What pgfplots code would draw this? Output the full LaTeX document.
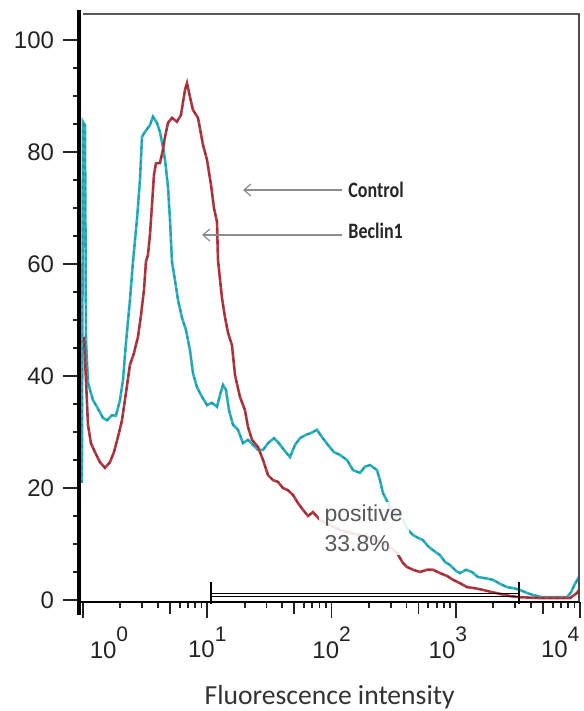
\documentclass[border=0pt]{standalone}
\usepackage{fontspec}
\setmainfont{Liberation Sans}
\newfontfamily\calfont{Carlito}
\usepackage{pgfplots}
\usepackage{pgfplotstable}
\pgfplotsset{compat=1.18}
\usetikzlibrary{arrows.meta}
\definecolor{cyanc}{RGB}{45,178,192}
\definecolor{cyand}{RGB}{25,115,128}
\definecolor{redc}{RGB}{180,58,68}
\definecolor{redd}{RGB}{105,30,40}
\definecolor{tickc}{RGB}{35,35,35}
\newcommand{\dec}[1]{10\raisebox{8.2pt}{\fontsize{10.5}{10.5}\selectfont #1}}

\pgfplotstableread{
x y
0.98 20.9
1.0 85.4
1.038 84.8
1.057 46.4
1.097 38.8
1.203 35.7
1.296 34.5
1.449 32.5
1.56 32.1
1.711 33.0
1.842 32.9
1.985 35.7
2.098 39.3
2.218 45.9
2.388 53.6
2.525 60.4
2.718 67.9
2.874 75.0
2.984 82.7
3.155 83.6
3.459 84.8
3.656 86.3
3.937 85.2
4.159 83.6
4.40 80.9
4.57 78.6
4.83 73.8
5.01 67.9
5.20 60.4
5.50 57.1
5.81 53.6
6.26 50.4
6.74 48.2
7.26 44.6
7.67 40.5
8.26 38.0
9.06 36.3
9.95 34.8
10.91 35.2
11.97 34.5
12.65 36.6
13.37 38.4
14.14 37.5
14.95 33.9
16.1 31.3
17.66 30.4
19.37 28.0
21.25 28.6
23.3 27.7
25.6 26.8
28.1 26.8
30.8 28.0
34.4 28.9
37.7 28.0
41.4 26.8
46.3 25.5
50.8 27.7
55.7 28.9
62.2 29.5
68.3 29.8
76.3 30.4
83.7 29.1
93.5 27.7
104.5 26.4
116.9 25.9
133.0 25.0
148.6 23.2
169.2 22.7
185.7 23.8
203.6 24.1
231.8 23.2
245 21.4
259 19.1
295 16.6
336 15.2
375 14.3
412 12.5
452 11.6
495 11.1
543 10.7
597 9.6
654 8.9
745 8.0
817 6.8
897 6.25
1002 5.2
1080 4.8
1206 5.4
1348 5.0
1506 4.1
1715 3.9
1988 3.6
2263 2.9
2577 2.3
2934 2.1
3280 1.8
3734 1.25
4170 0.9
4930 0.5
5930 0.5
7140 0.5
7830 0.5
8440 1.4
9080 2.9
9780 4.1
}\cyandata

\pgfplotstableread{
x y
1.019 47.0
1.057 39.3
1.097 31.3
1.159 28.0
1.249 26.4
1.370 24.6
1.503 23.6
1.648 24.6
1.775 26.4
1.912 29.1
2.06 32.1
2.218 37.0
2.388 42.0
2.572 44.1
2.77 47.0
2.93 50.9
3.097 55.4
3.21 60.4
3.33 61.6
3.459 65.2
3.59 70.5
3.725 75.9
3.865 78.0
4.159 78.0
4.40 80.4
4.57 82.7
4.83 85.2
5.20 86.1
5.70 85.4
6.14 86.6
6.62 91.1
6.87 92.3
7.26 89.8
7.67 87.5
8.42 86.1
9.23 81.3
9.95 78.6
10.71 74.1
11.32 70.0
11.97 67.5
12.19 60.7
13.13 53.9
13.88 50.5
14.69 47.7
15.8 45.5
16.7 40.2
18.3 36.3
20.1 33.9
21.25 30.9
22.9 28.6
25.6 27.3
28.1 25.0
30.8 22.3
33.8 21.4
37.0 21.1
40.6 20.0
44.6 19.6
48.9 18.75
53.7 17.3
58.9 16.1
64.6 15.0
70.8 15.7
80.7 14.3
97.1 13.4
116.9 12.5
140.6 12.0
169.2 11.6
203.6 11.1
245 10.4
295 9.5
336 8.4
375 6.6
404 5.9
452 5.4
514 5.0
585 5.4
654 5.4
745 4.8
848 4.3
948 3.6
1080 3.0
1228 2.3
1425 2.1
1653 1.8
1952 1.4
2263 1.1
2723 0.7
3280 0.5
4750 0.35
6870 0.35
8280 0.35
9420 1.25
9780 1.8
}\reddata

\begin{document}
\begin{tikzpicture}
\path[use as bounding box] (0,0) rectangle (291.5pt,355.5pt);
\begin{axis}[
  at={(39.5pt,54.5pt)}, anchor=south west,
  scale only axis, width=250.6pt, height=294pt,
  xmode=log, xmin=0.929, xmax=10000, ymin=-0.357, ymax=104.64,
  axis line style={draw=none},
  clip=false,
  tick align=outside, tick pos=left,
  ytick={0,20,40,60,80,100},
  minor ytick={5,10,15,25,30,35,45,50,55,65,70,75,85,90,95},
  xtick={1,10,100,1000,10000},
  xticklabels={\hspace*{26pt}\dec{0},\dec{1},\dec{2},\dec{3}\hspace*{8pt},\dec{4}\hspace*{20pt}},
  minor xtick={2,3,4,6,7,8,9,20,30,40,60,70,80,90,200,300,400,600,700,800,900,2000,3000,4000,6000,7000,8000,9000},
  extra x ticks={5,50,500,5000}, extra x tick labels={},
  extra x tick style={major tick length=6pt},
  major tick length=8pt, minor tick length=3pt,
  tick style={line width=0.9pt, tickc},
  /pgf/number format/assume math mode=true,
  yticklabel style={font=\fontsize{12}{14}\selectfont, text=tickc, xshift=-1pt},
  xticklabel style={font=\fontsize{12}{14}\selectfont, text=tickc, yshift=-1pt},
  xlabel={\calfont Fluorescence intensity},
  xlabel style={font=\fontsize{13.8}{16}\selectfont, text=black!80, at={(axis description cs:0.5,0)}, anchor=base, yshift=-51pt},
]
\addplot[cyanc, line width=1.3pt] table {\cyandata};
\addplot[cyand, line width=0.7pt, dash pattern=on 1.5pt off 2pt, opacity=0.5] table {\cyandata};
\addplot[redc, line width=1.3pt] table {\reddata};
\addplot[redd, line width=0.7pt, dash pattern=on 1.5pt off 2pt, opacity=0.5] table {\reddata};
% gate
\draw[black, line width=0.5pt] (axis cs:10.7,1.25) -- (axis cs:3220,1.25);
\draw[black, line width=0.5pt] (axis cs:10.7,0.54) -- (axis cs:3220,0.54);
\draw[black, line width=1.1pt] (axis cs:10.7,3.2) -- (axis cs:10.7,-0.75);
\draw[black, line width=1.1pt] (axis cs:3220,3.2) -- (axis cs:3220,-0.75);
\node[anchor=north west, fill=white, fill opacity=0.88, text opacity=1, align=left,
  inner xsep=3pt, inner ysep=1.5pt, font=\fontsize{11.5}{15}\selectfont, text=black!65]
  at (axis cs:78,17.6) {positive\\33.8\%};
\end{axis}
\begin{scope}[x=0.5pt,y=0.5pt]
  % frame
  \draw[line width=1.6pt, black] (79,{711-10}) -- (79,{711-615});
  \draw[line width=1.2pt, black] (79,{711-602}) -- (580,{711-602});
  \draw[line width=1pt, black!65] (83,{711-14}) -- (580,{711-14});
  \draw[line width=1pt, black!70] (579,{711-14}) -- (579,{711-602});
  % arrows
  \draw[black!45, line width=0.6pt, -{Straight Barb[length=3.5pt,width=6pt]}] (342,{711-190}) -- (243,{711-190});
  \draw[black!45, line width=0.6pt, -{Straight Barb[length=3.5pt,width=6pt]}] (342,{711-235}) -- (202,{711-235});
  \node[anchor=west, inner sep=0pt, text=black!85] at (348,{711-190}) {\scalebox{0.82}[1]{\calfont\bfseries\fontsize{11}{13}\selectfont Control}};
  \node[anchor=west, inner sep=0pt, text=black!85] at (348,{711-231}) {\scalebox{0.82}[1]{\calfont\bfseries\fontsize{11}{13}\selectfont Beclin1}};
\end{scope}
\end{tikzpicture}
\end{document}
